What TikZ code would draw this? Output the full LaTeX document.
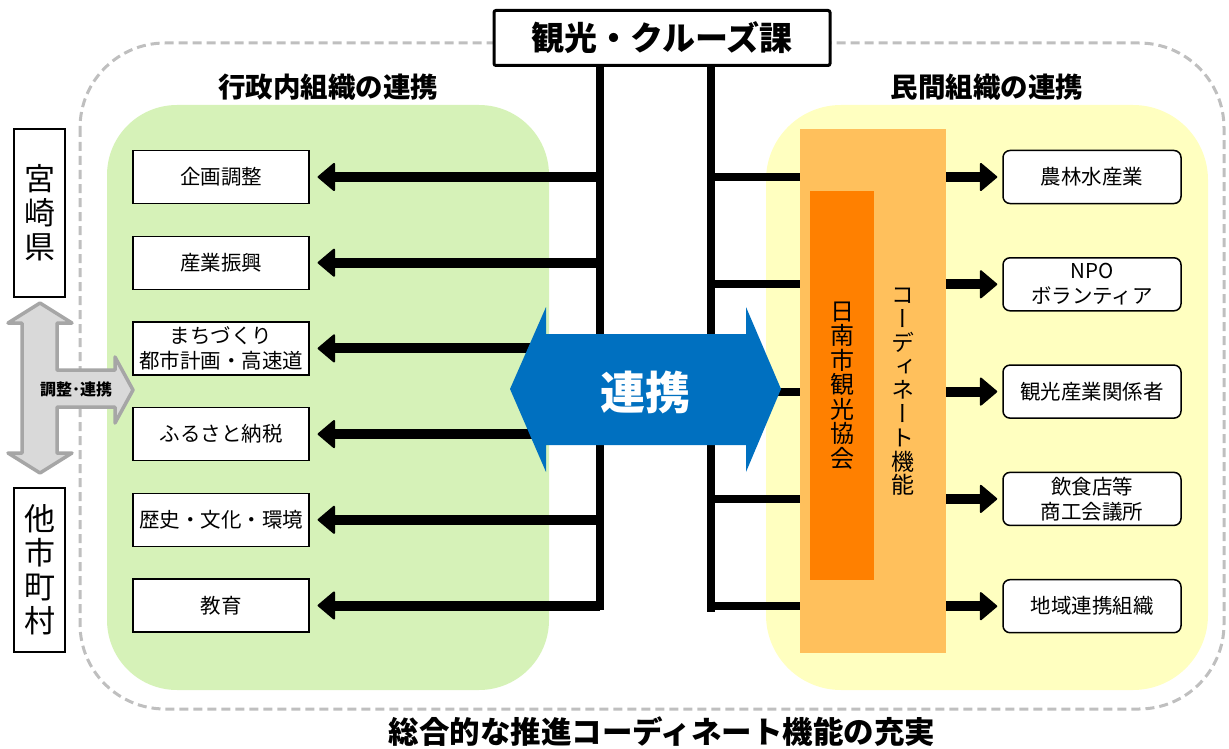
\documentclass[tikz,border=0pt]{standalone}
\usepackage{fontspec}
\setmainfont{Noto Sans CJK JP}
\newfontfamily\tatefont{Noto Sans CJK JP}[RawFeature=+vert]
\usetikzlibrary{arrows.meta,positioning}
\definecolor{kusa}{HTML}{D6F2B8}
\definecolor{kiiro}{HTML}{FFFFC0}
\definecolor{daidai}{HTML}{FFC05C}
\definecolor{koidaidai}{HTML}{FF8000}
\definecolor{renkeiao}{HTML}{0070C0}
\definecolor{haiiro}{HTML}{BFBFBF}
\definecolor{usuhai}{HTML}{D9D9D9}
\definecolor{nezumi}{HTML}{A6A6A6}

\begin{document}
\begin{tikzpicture}[x=1pt,y=-1pt,node distance=85.7pt]
\tikzstyle{lbox}=[draw,line width=1.2pt,fill=white,minimum width=176pt,minimum height=53pt,inner sep=1pt,align=center,font=\fontsize{20.5}{25}\selectfont]
\tikzstyle{rbox}=[lbox,rounded corners=7pt,line width=1.5pt,minimum width=178pt,node distance=107.3pt]
\tikzstyle{kenbox}=[draw,line width=1.2pt,minimum width=51pt,align=center,inner sep=0pt,font=\fontsize{31}{34}\selectfont]
\tikzstyle{bus}=[line width=8pt]
\tikzstyle{harrow}=[line width=10pt,-{Triangle[width=30pt,length=18pt,line width=2pt,round]}]
\tikzstyle{midashi}=[font=\bfseries\fontsize{27.5}{30}\selectfont]

\useasboundingbox (0,0) rectangle (1229,749);
% outer frame and the two groups
\draw[haiiro,line width=3pt,dash pattern=on 9pt off 5pt,rounded corners=85pt] (80,43) rectangle (1224,709);
\fill[kusa,rounded corners=70pt] (107,105) rectangle (549,690);
\fill[kiiro,rounded corners=75pt] (766,105) rectangle (1208,690);
\node[midashi] (gyosei) at (328,87) {行政内組織の連携};
\node[midashi] (minkan) at (987,87) {民間組織の連携};
\node[font=\bfseries\fontsize{30.5}{32}\selectfont] (sogo) at (662,732) {総合的な推進コーディネート機能の充実};

% prefecture side
\node[kenbox,minimum height=168pt] (miyazaki) at (39.5,213) {宮\\崎\\県};
\node[kenbox,minimum height=164pt] (tashi) at (39.5,570) {他\\市\\町\\村};
\draw[nezumi,fill=usuhai,line width=3.5pt,line join=round] (40,303) -- (72,323) -- (57,323) -- (57,370) -- (115,370) -- (115,357) -- (133,390) -- (115,423) -- (115,407) -- (57,407) -- (57,453) -- (72,453) -- (40,473) -- (8,453) -- (22,453) -- (22,323) -- (8,323) -- cycle;
\node[font=\bfseries\fontsize{16}{16}\selectfont] (chosei) at (76,389) {調整･連携};

% left boxes
\node[lbox] (kikaku) at (221,177) {企画調整};
\node[lbox,below of=kikaku] (sangyo) {産業振興};
\node[lbox,below of=sangyo] (machi) {まちづくり\\都市計画・高速道};
\node[lbox,below of=machi] (furusato) {ふるさと納税};
\node[lbox,below of=furusato] (rekishi) {歴史・文化・環境};
\node[lbox,below of=rekishi] (kyoiku) {教育};

% right boxes
\node[rbox] (norin) at (1092,177) {農林水産業};
\node[rbox,below of=norin] (npo) {NPO\\ボランティア};
\node[rbox,below of=npo] (kankosha) {観光産業関係者};
\node[rbox,below of=kankosha] (inshoku) {飲食店等\\商工会議所};
\node[rbox,below of=inshoku] (chiiki) {地域連携組織};

% buses
\coordinate (ltop) at (600,64);
\coordinate (lbot) at (600,610);
\coordinate (rtop) at (711,64);
\coordinate (rbot) at (711,612);
\draw[bus] (ltop) -- (lbot);
\draw[bus] (rtop) -- (rbot);
\foreach \n in {kikaku,sangyo,machi,furusato,rekishi,kyoiku}
  \draw[harrow,shorten >=8pt] (\n.east -| ltop) -- (\n.east);

% coordinate function
\node[fill=daidai,minimum width=146pt,minimum height=524pt,inner sep=0pt] (coord) at (873,391) {};
\node[fill=koidaidai,minimum width=64pt,minimum height=389pt,inner sep=0pt,align=center,font=\tatefont\fontsize{24}{24.5}\selectfont] (kyokai) at (842,385.5) {日\\南\\市\\観\\光\\協\\会};
\node[align=center,inner sep=0pt,font=\tatefont\fontsize{23}{23.75}\selectfont] (kinou) at (903,392) {コ\\ー\\デ\\ィ\\ネ\\ー\\ト\\機\\能};
\foreach \n in {norin,npo,kankosha,inshoku,chiiki}{
  \draw[bus] (\n.west -| rtop) -- (\n.west -| coord.west);
  \draw[harrow,shorten >=5pt] (\n.west -| coord.east) -- (\n.west);
}

% renkei arrow
\fill[renkeiao] (510,389) -- (546,307) -- (546,334) -- (746,334) -- (746,307) -- (781,389) -- (746,472) -- (746,445) -- (546,445) -- (546,472) -- cycle;
\node[white,font=\bfseries\fontsize{45}{45}\selectfont] (renkei) at (645,392) {連携};

% section title
\node[draw,line width=3pt,fill=white,rounded corners=2pt,minimum width=336pt,minimum height=55pt,font=\bfseries\fontsize{33}{33}\selectfont] (kanko) at (662,38) {観光・クルーズ課};
\end{tikzpicture}
\end{document}
